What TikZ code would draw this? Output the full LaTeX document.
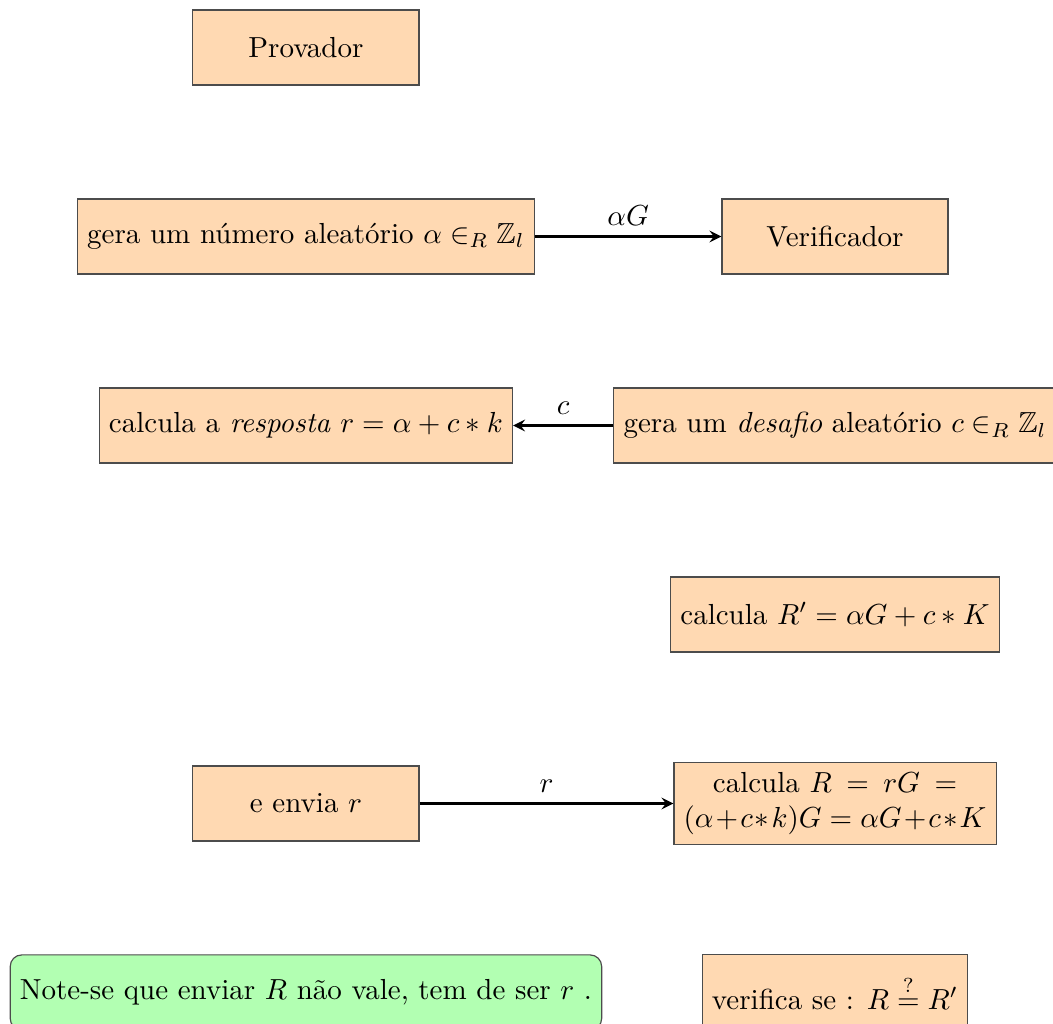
\documentclass[tikz,border=0pt]{standalone}
\usepackage{amsmath,amssymb}
\usetikzlibrary{arrows}
\begin{document}
\begin{tikzpicture}[box/.style={draw=black!70,fill=orange!30,minimum width=2.74cm,minimum height=0.91cm},
	note/.style={draw=black!70,fill=green!30,rounded corners,minimum height=0.91cm},
	msg/.style={thick,-stealth}]
\useasboundingbox (0,0) rectangle (12.762,-12.41);
\node[box] (prov) at (3.708,-0.576) {Provador};
\node[box] (gera) at (3.708,-2.866) {gera um número aleatório $\alpha \in_R \mathbb{Z}_l$};
\node[box] (verif) at (10.12,-2.866) {Verificador};
\node[box] (resp) at (3.708,-5.157) {calcula a \textit{resposta} $r = \alpha + c*k$};
\node[box] (desafio) at (10.12,-5.157) {gera um \textit{desafio} aleatório $c \in_R \mathbb{Z}_l$};
\node[box] (calcRl) at (10.12,-7.447) {calcula $R' = \alpha G + c*K$};
\node[box] (envia) at (3.708,-9.738) {e envia $r$};
\node[box,text width=3.67cm,align=center] (calcR) at (10.12,-9.738) {calcula $R$ \,=\, $rG$ \,=\, $(\alpha+c*k)G = \alpha G+c*K$};
\node[note] (nota) at (3.708,-12.028) {Note-se que enviar $R$ não vale, tem de ser $r$ .};
\node[box,minimum width=0cm] (verifica) at (10.12,-12.028) {verifica se : $R \stackrel{?}{=} R'$};
\draw[msg] (gera) -- node[above]{$\alpha G$} (verif);
\draw[msg] (desafio) -- node[above]{$c$} (resp);
\draw[msg] (envia) -- node[above]{$r$} (calcR);
\end{tikzpicture}
\end{document}
